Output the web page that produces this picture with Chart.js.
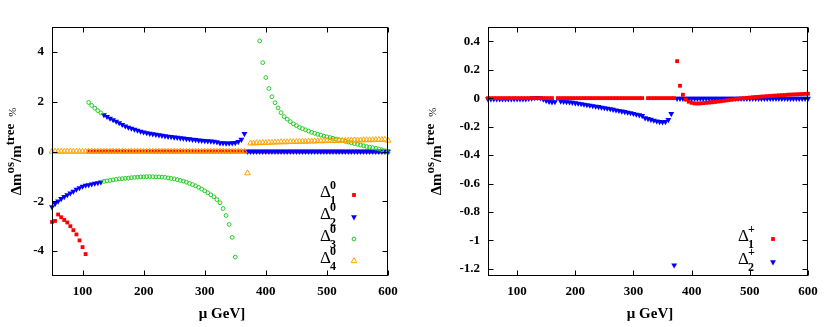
<!DOCTYPE html>
<html>
<head>
<meta charset="utf-8">
<script src="https://cdn.jsdelivr.net/npm/chart.js@4.4.0/dist/chart.umd.min.js"></script>
<style>
  body { margin: 0; background: #fff; }
  canvas { position: absolute; top: 0; }
  #left { left: 0; }
  #right { left: 415px; }
</style>
</head>
<body>
<canvas id="left" width="415" height="327"></canvas>
<canvas id="right" width="415" height="327"></canvas>
<script>
// mu 격자 (GeV)
const muGrid = [
  50, 55, 60, 65, 70, 75, 80, 85, 90, 95,
  100, 105, 110, 115, 120, 125, 130, 135, 140, 145,
  150, 155, 160, 165, 170, 175, 180, 185, 190, 195,
  200, 205, 210, 215, 220, 225, 230, 235, 240, 245,
  250, 255, 260, 265, 270, 275, 280, 285, 290, 295,
  300, 305, 310, 315, 320, 325, 330, 335, 340, 345,
  350, 355, 360, 365, 370, 375, 380, 385, 390, 395,
  400, 405, 410, 415, 420, 425, 430, 435, 440, 445,
  450, 455, 460, 465, 470, 475, 480, 485, 490, 495,
  500, 505, 510, 515, 520, 525, 530, 535, 540, 545,
  550, 555, 560, 565, 570, 575, 580, 585, 590, 595,
  600
];

// 눈금
const xTicks = [100, 200, 300, 400, 500, 600];
const yTicksLeft = [-4, -2, 0, 2, 4];
const yTicksRight = [-1.2, -1, -0.8, -0.6, -0.4, -0.2, 0, 0.2, 0.4];

// 왼쪽 그림: 중성 (Δ^0)
const neutral1 = [
  -2.83, -2.79, -2.53, -2.64, -2.75, -2.85, -3.00, -3.16, -3.33, -3.57,
  -3.84, -4.12, 0, 0, 0, 0, 0, 0, 0, 0,
  0, 0, 0, 0, 0, 0, 0, 0, 0, 0,
  0, 0, 0, 0, 0, 0, 0, 0, 0, 0,
  0, 0, 0, 0, 0, 0, 0, 0, 0, 0,
  0, 0, 0, 0, 0, 0, 0, 0, 0, 0,
  0, 0, 0, 0, 0, 0, 0, 0, 0, 0,
  0, 0, 0, 0, 0, 0, 0, 0, 0, 0,
  0, 0, 0, 0, 0, 0, 0, 0, 0, 0,
  0, 0, 0, 0, 0, 0, 0, 0, 0, 0,
  0, 0, 0, 0, 0, 0, 0, 0, 0, 0,
  0
];
const neutral2 = [
  -2.23, -2.10, -2.00, -1.90, -1.82, -1.74, -1.67, -1.60, -1.52, -1.46,
  -1.40, -1.36, -1.34, -1.31, -1.28, -1.26, -1.23, 1.47, 1.40, 1.33,
  1.27, 1.21, 1.15, 1.08, 1.02, 0.97, 0.93, 0.89, 0.85, 0.81,
  0.78, 0.75, 0.72, 0.70, 0.68, 0.66, 0.64, 0.62, 0.60, 0.59,
  0.57, 0.56, 0.54, 0.53, 0.51, 0.50, 0.48, 0.47, 0.45, 0.44,
  0.43, 0.42, 0.41, 0.40, 0.38, 0.34, 0.34, 0.33, 0.33, 0.34,
  0.35, 0.39, 0.48, 0.71, 0, 0, 0, 0, 0, 0,
  0, 0, 0, 0, 0, 0, 0, 0, 0, 0,
  0, 0, 0, 0, 0, 0, 0, 0, 0, 0,
  0, 0, 0, 0, 0, 0, 0, 0, 0, 0,
  0, 0, 0, 0, 0, 0, 0, 0, 0, 0,
  0
];
const neutral3 = [
  null, null, null, null, null, null, null, null, null, null,
  null, null, 1.97, 1.85, 1.74, 1.64, 1.55, -1.20, -1.18, -1.16,
  -1.14, -1.12, -1.10, -1.09, -1.08, -1.07, -1.05, -1.04, -1.03, -1.02,
  -1.02, -1.01, -1.01, -1.01, -1.02, -1.02, -1.03, -1.04, -1.06, -1.08,
  -1.10, -1.13, -1.16, -1.19, -1.23, -1.28, -1.33, -1.38, -1.44, -1.51,
  -1.58, -1.66, -1.74, -1.82, -1.93, -2.06, -2.29, -2.57, -2.93, -3.45,
  -4.24, null, null, null, null, null, null, null, 4.44, 3.57,
  2.97, 2.53, 2.20, 1.96, 1.75, 1.56, 1.40, 1.30, 1.20, 1.11,
  1.04, 0.97, 0.92, 0.87, 0.82, 0.77, 0.73, 0.69, 0.66, 0.62,
  0.59, 0.56, 0.53, 0.50, 0.47, 0.44, 0.41, 0.38, 0.35, 0.32,
  0.29, 0.26, 0.23, 0.20, 0.18, 0.15, 0.13, 0.10, 0.07, 0.03,
  -0.04
];
const neutral4 = [
  0, 0, 0, 0, 0, 0, 0, 0, 0, 0,
  0, 0, 0, 0, 0, 0, 0, 0, 0, 0,
  0, 0, 0, 0, 0, 0, 0, 0, 0, 0,
  0, 0, 0, 0, 0, 0, 0, 0, 0, 0,
  0, 0, 0, 0, 0, 0, 0, 0, 0, 0,
  0, 0, 0, 0, 0, 0, 0, 0, 0, 0,
  0, 0, 0, 0, -0.87, 0.33, 0.33, 0.34, 0.34, 0.35,
  0.35, 0.36, 0.36, 0.37, 0.37, 0.38, 0.38, 0.38, 0.39, 0.39,
  0.39, 0.40, 0.40, 0.40, 0.41, 0.41, 0.41, 0.42, 0.42, 0.42,
  0.43, 0.43, 0.43, 0.43, 0.44, 0.44, 0.44, 0.44, 0.45, 0.45,
  0.45, 0.45, 0.46, 0.46, 0.46, 0.46, 0.47, 0.47, 0.47, 0.48,
  0.44
];

// 오른쪽 그림: 하전 (Δ^+)
const charged1 = [
  0, 0, 0, 0, 0, 0, 0, 0, 0, 0,
  0, 0, 0, 0, 0, 0, 0, 0, 0, 0,
  0, 0, 0, null, 0, 0, 0, 0, 0, 0,
  0, 0, 0, 0, 0, 0, 0, 0, 0, 0,
  0, 0, 0, 0, 0, 0, 0, 0, 0, 0,
  0, 0, 0, 0, null, 0, 0, 0, 0, 0,
  0, 0, 0, 0, 0, 0.26, 0.087, 0.024, -0.010, -0.025,
  -0.033, -0.037, -0.038, -0.037, -0.035, -0.033, -0.031, -0.029, -0.027, -0.024,
  -0.022, -0.019, -0.016, -0.013, -0.010, -0.007, -0.004, -0.002, 0, 0.002,
  0.004, 0.006, 0.008, 0.009, 0.011, 0.012, 0.014, 0.015, 0.017, 0.018,
  0.020, 0.021, 0.022, 0.024, 0.025, 0.026, 0.027, 0.028, 0.029, 0.030,
  0.031
];
const charged2 = [
  -0.006, -0.006, -0.006, -0.006, -0.006, -0.006, -0.006, -0.006, -0.006, -0.006,
  -0.006, -0.006, -0.007, -0.006, -0.004, -0.001, 0.002, 0.003, 0.001, -0.008,
  -0.018, -0.025, -0.027, -0.026, null, -0.022, -0.024, -0.026, -0.028, -0.031,
  -0.034, -0.037, -0.040, -0.044, -0.047, -0.051, -0.054, -0.058, -0.061, -0.065,
  -0.069, -0.072, -0.076, -0.080, -0.084, -0.088, -0.092, -0.096, -0.100, -0.104,
  -0.109, -0.114, -0.119, -0.124, -0.140, -0.145, -0.150, -0.156, -0.162, -0.166,
  -0.168, -0.166, -0.152, -0.110, -1.174, -0.003, -0.003, -0.003, -0.003, -0.003,
  -0.003, -0.003, -0.003, -0.003, -0.003, -0.003, -0.003, -0.003, -0.003, -0.003,
  -0.003, -0.003, -0.003, -0.003, -0.003, -0.003, -0.003, -0.003, -0.003, -0.003,
  -0.003, -0.003, -0.003, -0.003, -0.003, -0.003, -0.003, -0.003, -0.003, -0.003,
  -0.003, -0.003, -0.003, -0.003, -0.003, -0.003, -0.003, -0.003, -0.003, -0.003,
  -0.003
];

// 범례 첨자
const leftSubs = ['1', '2', '3', '4'];
const leftSups = ['0', '0', '0', '0'];
const rightSubs = ['1', '2'];
const rightSups = ['+', '+'];

const serif = "'Liberation Serif', 'Times New Roman', serif";

// 마커 스타일
const styles = {
  red: { pointStyle: 'rect', radius: 2.7, backgroundColor: '#ff0000', borderColor: '#ff0000', borderWidth: 0, rotation: 0 },
  blue: { pointStyle: 'triangle', radius: 3.4, backgroundColor: '#0000ff', borderColor: '#0000ff', borderWidth: 0, rotation: 180 },
  green: { pointStyle: 'circle', radius: 1.9, backgroundColor: 'rgba(0,0,0,0)', borderColor: '#22cc22', borderWidth: 1, rotation: 0 },
  orange: { pointStyle: 'triangle', radius: 3.3, backgroundColor: 'rgba(0,0,0,0)', borderColor: '#ffa500', borderWidth: 1, rotation: 0 }
};

function dataset(values, st, order) {
  const s = styles[st];
  return {
    data: values,
    showLine: false,
    clip: false,
    order: order,
    pointStyle: s.pointStyle,
    pointRadius: s.radius,
    pointRotation: s.rotation,
    pointBackgroundColor: s.backgroundColor,
    pointBorderColor: s.borderColor,
    pointBorderWidth: s.borderWidth
  };
}

// 테두리 + 안쪽 눈금
const frame = {
  id: 'frame',
  afterDatasetsDraw(chart) {
    const { ctx, chartArea: a } = chart;
    const x = chart.scales.x, y = chart.scales.y;
    const L = Math.round(a.left) + 0.5, R = Math.round(a.right) - 0.5;
    const T = Math.round(a.top) + 0.5, B = Math.round(a.bottom) - 0.5;
    ctx.save();
    ctx.strokeStyle = '#000';
    ctx.lineWidth = 1;
    ctx.beginPath();
    x.ticks.forEach(t => {
      const px = Math.round(x.getPixelForValue(t.value)) + 0.5;
      ctx.moveTo(px, B); ctx.lineTo(px, B - 5);
      ctx.moveTo(px, T); ctx.lineTo(px, T + 5);
    });
    y.ticks.forEach(t => {
      const py = Math.round(y.getPixelForValue(t.value)) + 0.5;
      ctx.moveTo(L, py); ctx.lineTo(L + 5, py);
      ctx.moveTo(R, py); ctx.lineTo(R - 5, py);
    });
    ctx.stroke();
    ctx.strokeRect(L, T, R - L, B - T);
    ctx.restore();
  }
};

// 글자 조각 이어 그리기
function runsWidth(ctx, runs) {
  let w = 0;
  runs.forEach(r => { ctx.font = r.font; w += ctx.measureText(r.text).width + (r.dx || 0); });
  return w;
}
function drawRuns(ctx, runs, x, y) {
  runs.forEach(r => {
    x += r.dx || 0;
    ctx.font = r.font;
    ctx.fillText(r.text, x, y + (r.dy || 0));
    x += ctx.measureText(r.text).width;
  });
}

const yTitleRuns = [
  { text: 'Δm', font: 'bold 15px ' + serif },
  { text: 'os', font: 'bold 13px ' + serif, dy: -7 },
  { text: '/m', font: 'bold 15px ' + serif },
  { text: 'tree', font: 'bold 13px ' + serif, dy: -7 },
  { text: '%', font: '11px ' + serif, dy: -5, dx: 7 }
];

const decor = {
  id: 'decor',
  afterDraw(chart) {
    const { ctx, chartArea: a } = chart;
    const o = chart.options.plugins.decor;
    ctx.save();
    ctx.fillStyle = '#000';
    ctx.textBaseline = 'alphabetic';

    // x 축 제목
    ctx.font = 'bold 15px ' + serif;
    ctx.textAlign = 'center';
    ctx.fillText('μ GeV]', (a.left + a.right) / 2 + 2, 318);

    // y 축 제목
    ctx.textAlign = 'left';
    ctx.save();
    ctx.translate(o.yTitleX, (a.top + a.bottom) / 2);
    ctx.rotate(-Math.PI / 2);
    drawRuns(ctx, yTitleRuns, -runsWidth(ctx, yTitleRuns) / 2, 0);
    ctx.restore();

    // 범례
    o.legend.items.forEach((it, i) => {
      const ry = o.legend.y + i * o.legend.dy;
      ctx.font = '17px ' + serif;
      ctx.fillText('Δ', o.legend.x, ry + 2);
      const w = ctx.measureText('Δ').width;
      ctx.font = 'bold 12px ' + serif;
      ctx.fillText(it.sup, o.legend.x + w - 1, ry - 6);
      ctx.fillText(it.sub, o.legend.x + w - 1, ry + 9);
      const s = styles[it.style];
      ctx.fillStyle = s.backgroundColor;
      ctx.strokeStyle = s.borderColor;
      ctx.lineWidth = s.borderWidth;
      Chart.helpers.drawPoint(ctx, s, o.legend.mx, ry);
      ctx.fillStyle = '#000';
    });
    ctx.restore();
  }
};

function makePlot(id, o) {
  return new Chart(document.getElementById(id), {
    type: 'line',
    data: { labels: muGrid, datasets: o.datasets },
    options: {
      responsive: false,
      animation: false,
      events: [],
      layout: { padding: { left: 0, right: o.padRight, top: 27, bottom: 21 } },
      plugins: {
        legend: { display: false },
        tooltip: { enabled: false },
        decor: { yTitleX: o.yTitleX, legend: o.legend }
      },
      scales: {
        x: {
          type: 'linear', min: 50, max: 600,
          afterFit: s => { s.height = 30; },
          afterBuildTicks: s => { s.ticks = xTicks.map(v => ({ value: v })); },
          grid: { display: false, drawTicks: false },
          border: { display: false },
          ticks: { padding: 8, color: '#000', maxRotation: 0, autoSkip: false, font: { family: serif, size: 13, weight: 'bold' } }
        },
        y: {
          type: 'linear', min: o.yMin, max: o.yMax,
          afterFit: s => { s.width = o.yWidth; },
          afterBuildTicks: s => { s.ticks = o.yTicks.map(v => ({ value: v })); },
          grid: { display: false, drawTicks: false },
          border: { display: false },
          ticks: {
            padding: 8, color: '#000', autoSkip: false,
            font: { family: serif, size: 13, weight: 'bold' },
            callback: v => String(Number(v.toFixed(1)))
          }
        }
      }
    },
    plugins: [frame, decor]
  });
}

makePlot('left', {
  datasets: [
    dataset(neutral1, 'red', 4),
    dataset(neutral2, 'blue', 3),
    dataset(neutral3, 'green', 2),
    dataset(neutral4, 'orange', 1)
  ],
  yMin: -5, yMax: 5, yTicks: yTicksLeft,
  yWidth: 52, padRight: 27, yTitleX: 21,
  legend: {
    x: 320, mx: 354, y: 195, dy: 22,
    items: leftSubs.map((s, i) => ({ sub: s, sup: leftSups[i], style: ['red', 'blue', 'green', 'orange'][i] }))
  }
});

makePlot('right', {
  datasets: [
    dataset(charged1, 'red', 1),
    dataset(charged2, 'blue', 2)
  ],
  yMin: -1.25, yMax: 0.5, yTicks: yTicksRight,
  yWidth: 73, padRight: 22, yTitleX: 26,
  legend: {
    x: 323, mx: 358, y: 239, dy: 23,
    items: rightSubs.map((s, i) => ({ sub: s, sup: rightSups[i], style: ['red', 'blue'][i] }))
  }
});
</script>
</body>
</html>
